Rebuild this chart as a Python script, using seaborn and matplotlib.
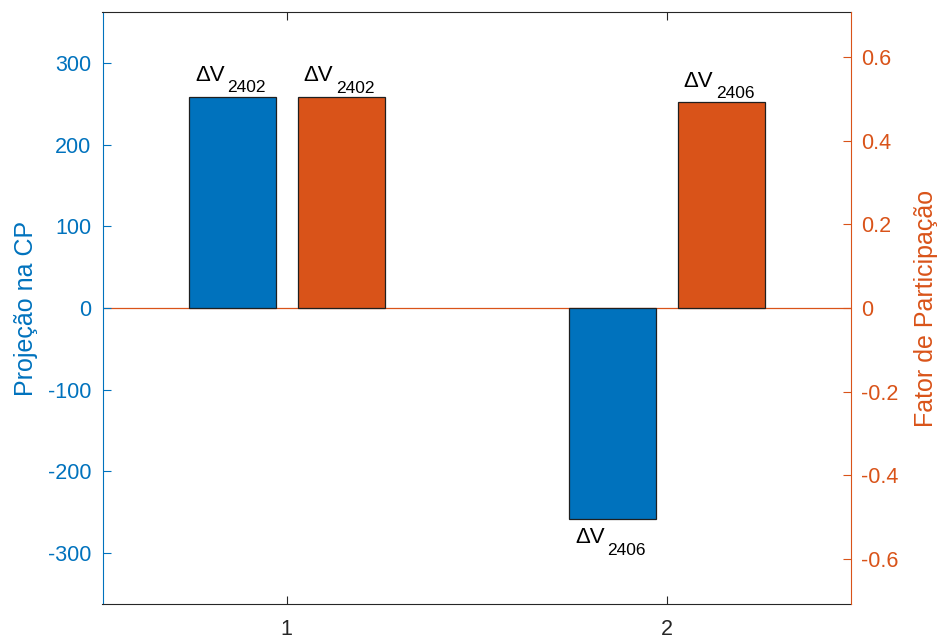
import numpy as np
import pandas as pd
import matplotlib
matplotlib.use("Agg")
import matplotlib.pyplot as plt
import seaborn as sns

# Dados do gráfico
grupos = [1, 2]
tick_labels = ["1", "2"]
projecao_cp = [259.0, -259.0]
fator_participacao = [0.505, 0.492]
barras_projecao = ["2402", "2406"]
barras_fator = ["2402", "2406"]
ticks_projecao = [-300, -200, -100, 0, 100, 200, 300]
ticks_fator = [-0.6, -0.4, -0.2, 0, 0.2, 0.4, 0.6]

AZUL = "#0072BD"
LARANJA = "#D95319"
CINZA = "#262626"
BORDA = "#1f1f1f"

sns.set_style("ticks")
plt.rcParams["font.family"] = ["Liberation Sans", "DejaVu Sans"]
plt.rcParams["axes.unicode_minus"] = False

W, H = 941, 641
fig = plt.figure(figsize=(W / 100, H / 100), dpi=100)
x0, x1, y0, y1 = 102.5, 851, 12, 604
ax = fig.add_axes([x0 / W, (H - y1) / H, (x1 - x0) / W, (y1 - y0) / H])
ax2 = ax.twinx()

deslocamento = 0.143
largura = 0.229
x_proj = np.array(grupos, dtype=float) - deslocamento
x_fator = np.array(grupos, dtype=float) + deslocamento

df_proj = pd.DataFrame({"x": x_proj, "y": projecao_cp})
df_fator = pd.DataFrame({"x": x_fator, "y": fator_participacao})

# linha de base em zero (atrás das barras)
ax.axhline(0, color=LARANJA, lw=0.9, zorder=0.5)

sns.barplot(data=df_proj, x="x", y="y", native_scale=True, width=largura,
            color=AZUL, saturation=1, edgecolor=BORDA, linewidth=0.9,
            errorbar=None, ax=ax, zorder=2)
sns.barplot(data=df_fator, x="x", y="y", native_scale=True, width=largura,
            color=LARANJA, saturation=1, edgecolor=BORDA, linewidth=0.9,
            errorbar=None, ax=ax2, zorder=2)

ax.set_xlim(0.515, 2.485)
ax.set_ylim(-362.9, 362.9)
ax2.set_ylim(-0.7085, 0.7085)

ax.set_xticks(grupos)
ax.set_xticklabels(tick_labels)
ax.set_yticks(ticks_projecao)
ax.set_yticklabels([f"{v:g}" for v in ticks_projecao])
ax2.set_yticks(ticks_fator)
ax2.set_yticklabels([f"{v:g}" for v in ticks_fator])

ax.set_xlabel("")
ax.set_ylabel("Projeção na CP", color=AZUL, fontsize=18)
ax2.set_ylabel("Fator de Participação", color=LARANJA, fontsize=18, rotation=90)
ax.yaxis.set_label_coords(-(x0 - 38) / (x1 - x0), 0.5)
ax2.yaxis.set_label_coords(1.0 + (914 - x1) / (x1 - x0), 0.5)

# eixos
for s in ["top", "bottom"]:
    ax.spines[s].set_color(CINZA)
    ax.spines[s].set_linewidth(0.8)
    ax2.spines[s].set_visible(False)
ax.spines["left"].set_color(AZUL)
ax.spines["left"].set_linewidth(0.8)
ax.spines["right"].set_visible(False)
ax2.spines["left"].set_visible(False)
ax2.spines["right"].set_color(LARANJA)
ax2.spines["right"].set_linewidth(0.8)

ax.tick_params(axis="x", direction="in", top=True, bottom=True, length=5.5,
               width=0.8, color=CINZA, labelcolor=CINZA, labelsize=15.5, pad=11)
ax.tick_params(axis="y", direction="in", left=True, right=False, length=5.5,
               width=0.8, color=AZUL, labelcolor=AZUL, labelsize=15.5, pad=8)
ax2.tick_params(axis="y", direction="in", right=True, left=False, length=5.5,
                width=0.8, color=LARANJA, labelcolor=LARANJA, labelsize=15.5, pad=7)

# rótulos das barras: "ΔV" com índice rebaixado
renderer = fig.canvas.get_renderer()


def rotular(eixo, xs, ys, subs):
    for x, y, s in zip(xs, ys, subs):
        t1 = eixo.annotate("ΔV", (x, y), xytext=(0, 0), textcoords="offset pixels",
                           ha="left", va="baseline", fontsize=16, color="black")
        t2 = eixo.annotate(s, (x, y), xytext=(0, 0), textcoords="offset pixels",
                           ha="left", va="baseline", fontsize=12.5, color="black")
        w1 = t1.get_window_extent(renderer).width
        w2 = t2.get_window_extent(renderer).width
        espaco = 2.5
        total = w1 + espaco + w2
        esquerda = -total / 2 - 2
        base = 15.7 if y >= 0 else -24.0
        t1.xyann = (esquerda, base)
        t2.xyann = (esquerda + w1 + espaco, base - 11.3)


rotular(ax, x_proj, projecao_cp, barras_projecao)
rotular(ax2, x_fator, fator_participacao, barras_fator)

fig.savefig("out.png", dpi=100)
